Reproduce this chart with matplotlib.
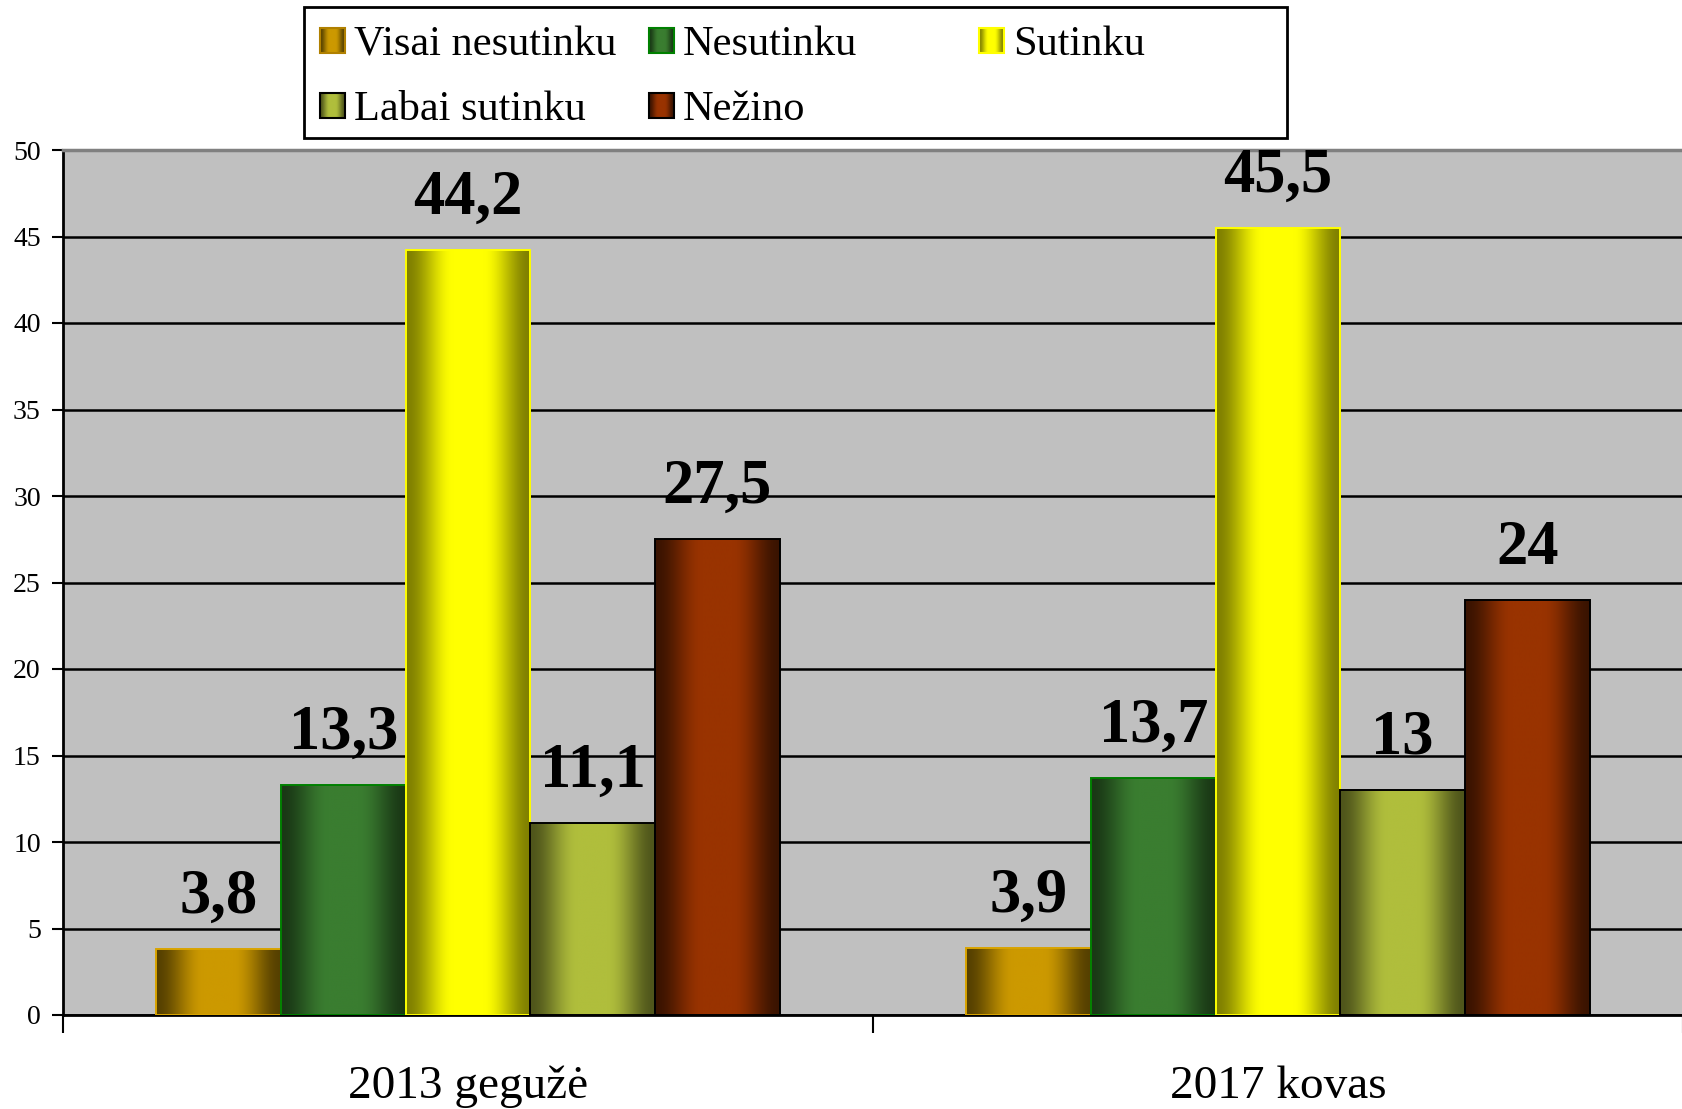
import numpy as np
import matplotlib
matplotlib.use("Agg")
import matplotlib.pyplot as plt
from matplotlib.patches import Rectangle

plt.rcParams['font.family'] = ['Liberation Serif', 'DejaVu Serif']

# ---- data ----
categories = ["2013 gegužė", "2017 kovas"]
series_names = ["Visai nesutinku", "Nesutinku", "Sutinku", "Labai sutinku", "Nežino"]
visai_nesutinku = [3.8, 3.9]
nesutinku = [13.3, 13.7]
sutinku = [44.2, 45.5]
labai_sutinku = [11.1, 13.0]
nezino = [27.5, 24.0]
series_values = [visai_nesutinku, nesutinku, sutinku, labai_sutinku, nezino]
y_ticks = list(range(0, 51, 5))

# ---- styles ----
center_colors = ["#CC9900", "#3A7D30", "#FFFF00", "#B0BE3C", "#993300"]
edge_colors = ["#D9A400", "#008000", "#FFFF00", "#000000", "#000000"]
dark_factor = [0.42, 0.45, 0.5, 0.45, 0.38]

W, H = 1683, 1109
fig = plt.figure(figsize=(W / 100, H / 100), dpi=100)
ax = fig.add_axes([63 / W, 1 - 1015 / H, 1 - 63 / W, (1015 - 150) / H])
ax.set_facecolor("#C0C0C0")


def gradient_strip(color, dark, n=256):
    rgb = np.array(matplotlib.colors.to_rgb(color))
    t = np.linspace(0, 1, n)
    g = np.ones_like(t)
    left = t < 0.38
    right = t > 0.62
    s = t[left] / 0.38
    g[left] = s * s * (3 - 2 * s)
    s = (1 - t[right]) / 0.38
    g[right] = s * s * (3 - 2 * s)
    shade = dark + (1 - dark) * g
    img = rgb[None, :] * shade[:, None]
    return np.clip(img[None, :, :], 0, 1)


bw = 0.154
xbase = np.arange(len(categories))
for i, (name, vals) in enumerate(zip(series_names, series_values)):
    xs = xbase + (i - 2) * bw
    bars = ax.bar(xs, vals, width=bw, facecolor="none", edgecolor=edge_colors[i],
                  linewidth=1.4, zorder=4, label=name)
    strip = gradient_strip(center_colors[i], dark_factor[i])
    for b, v in zip(bars, vals):
        x0 = b.get_x()
        im = ax.imshow(strip, extent=[x0, x0 + b.get_width(), 0, b.get_height()],
                       aspect="auto", zorder=3, interpolation="bilinear")
        im.set_clip_path(b)
        txt = f"{v:g}".replace(".", ",")
        ax.annotate(txt, xy=(x0 + b.get_width() / 2, v), xytext=(0, 26),
                    textcoords="offset points", ha="center", va="baseline",
                    fontsize=45, fontweight="bold", color="black", zorder=6)

ax.set_xlim(-0.5, 1.5)
ax.set_ylim(0, 50)
ax.set_axisbelow(True)
ax.set_yticks(y_ticks)
ax.yaxis.grid(True, color="black", linewidth=1.8)
ax.tick_params(axis="y", length=8, width=1.5, pad=8, labelsize=20, direction="out")

ax.set_xticks(xbase)
ax.set_xticklabels(categories, fontsize=34)
ax.set_xticks([-0.5, 0.5, 1.5], minor=True)
ax.tick_params(axis="x", which="major", length=0, pad=36)
ax.tick_params(axis="x", which="minor", length=13, width=1.5, direction="out")

ax.spines["left"].set_linewidth(2)
ax.spines["bottom"].set_linewidth(2)
ax.spines["top"].set_color("#808080")
ax.spines["top"].set_linewidth(2.5)
ax.spines["right"].set_visible(False)

# ---- legend (drawn in pixel coordinates on an overlay) ----
lax = fig.add_axes([0, 0, 1, 1], zorder=5)
lax.set_xlim(0, W)
lax.set_ylim(H, 0)
lax.axis("off")
lax.patch.set_alpha(0)
lax.add_patch(Rectangle((304, 7), 983, 131, facecolor="white", edgecolor="black",
                        linewidth=2, zorder=1))
legend_pos = [(320, 53), (649, 53), (979, 53), (320, 118), (649, 118)]
for i, name in enumerate(series_names):
    mx, by = legend_pos[i]
    lax.imshow(gradient_strip(center_colors[i], dark_factor[i]),
               extent=[mx, mx + 25, by, by - 25], aspect="auto", zorder=2)
    lax.add_patch(Rectangle((mx, by - 25), 25, 25, facecolor="none",
                            edgecolor=edge_colors[i] if i != 0 else "#B08000",
                            linewidth=1.5, zorder=3))
    lax.text(mx + 34, by + 2, name, fontsize=30.5, va="baseline", ha="left", zorder=3)
lax.set_xlim(0, W)
lax.set_ylim(H, 0)

fig.savefig("out.png", dpi=100)
